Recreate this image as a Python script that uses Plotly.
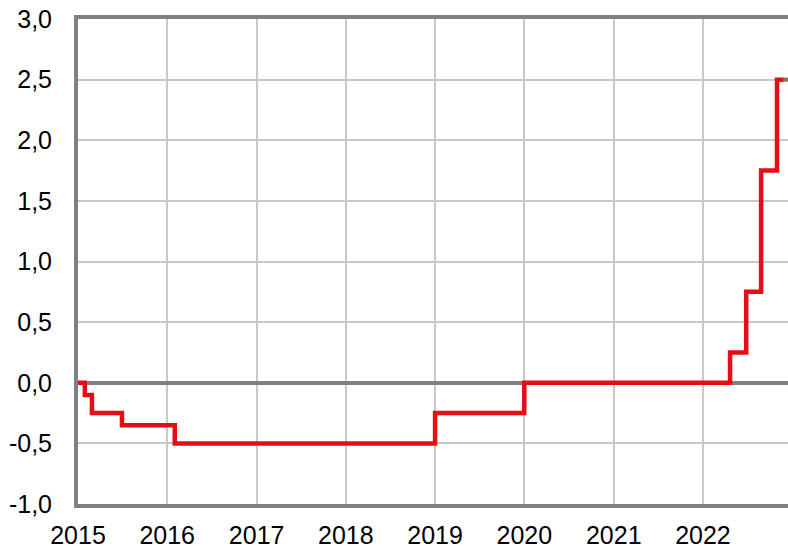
import plotly.graph_objects as go

# Repo rate steps (date, value in %)
dates = ["2015-01-01", "2015-01-29", "2015-02-27", "2015-06-30", "2016-02-01",
         "2019-01-01", "2020-01-01", "2022-04-22", "2022-06-27", "2022-08-27",
         "2022-10-31", "2022-11-26"]
rates = [0.0, -0.10, -0.25, -0.35, -0.50, -0.25, 0.0, 0.25, 0.75, 1.75, 2.50, 2.50]

fc_dates = ["2022-11-25", "2022-12-15"]
fc_rates = [2.50, 2.50]

ytick_vals = [-1.0, -0.5, 0.0, 0.5, 1.0, 1.5, 2.0, 2.5, 3.0]
ytick_text = ["-1,0", "-0,5", "0,0", "0,5", "1,0", "1,5", "2,0", "2,5", "3,0"]
xtick_vals = ["2015-01-01", "2016-01-01", "2017-01-01", "2018-01-01", "2019-01-01",
              "2020-01-01", "2021-01-01", "2022-01-01"]
xtick_text = ["2015", "2016", "2017", "2018", "2019", "2020", "2021", "2022"]

fig = go.Figure()
fig.add_trace(go.Scatter(x=fc_dates, y=fc_rates, mode="lines",
                         line=dict(color="#8b6f4e", width=4, shape="hv"),
                         showlegend=False, hoverinfo="skip"))
fig.add_trace(go.Scatter(x=dates, y=rates, mode="lines",
                         line=dict(color="#e30e16", width=4.5, shape="hv"),
                         showlegend=False))

fig.update_layout(
    width=788, height=548,
    margin=dict(l=78, r=0, t=19, b=44),
    paper_bgcolor="white", plot_bgcolor="white",
    font=dict(family="Liberation Sans, Arial, sans-serif", size=25, color="black"),
    xaxis=dict(type="date", range=["2015-01-01", "2022-12-15"],
               tickvals=xtick_vals, ticktext=xtick_text,
               showgrid=True, gridcolor="#c8c8c8", gridwidth=2,
               showline=True, linecolor="#808080", linewidth=4, mirror=True,
               ticks="", ticklabelstandoff=6, zeroline=False, automargin=False),
    yaxis=dict(range=[-1.0, 3.0], tickvals=ytick_vals, ticktext=ytick_text,
               showgrid=True, gridcolor="#c8c8c8", gridwidth=2,
               showline=True, linecolor="#808080", linewidth=4, mirror=False,
               zeroline=True, zerolinecolor="#808080", zerolinewidth=4,
               ticks="", ticklabelstandoff=17, automargin=False),
)

fig.write_html("out.html", config={"displayModeBar": False},
               post_script="document.body.style.margin='0';document.body.style.padding='0';document.body.style.overflow='hidden';")
